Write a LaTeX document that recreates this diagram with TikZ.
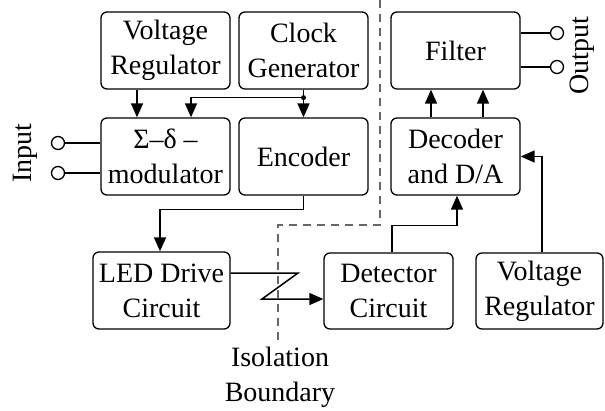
\documentclass[tikz,border=0pt]{standalone}
\usepackage{fontspec}
\setmainfont{Liberation Serif}
\usetikzlibrary{arrows.meta,calc}
\begin{document}
\begin{tikzpicture}[x=1pt,y=-1pt,
  blk/.style={draw,line width=1.3pt,rounded corners=6pt,align=center,inner sep=0pt,
    minimum width=129pt,minimum height=77pt,font=\fontsize{28}{35}\selectfont},
  lbl/.style={align=center,inner sep=0pt,font=\fontsize{28}{35}\selectfont},
  conn/.style={line width=1.5pt},
  arr/.style={conn,-{Triangle[length=14pt,width=12pt]}},
  term/.style={draw,line width=1.3pt,circle,minimum size=13pt,inner sep=0pt,fill=white},
  bnd/.style={dashed,dash pattern=on 8pt off 6pt,line width=1.2pt,gray!80!black}]
\useasboundingbox (0,0) rectangle (605,410);
% boxes
\node[blk] (VR1) at (165.5,50.5) {Voltage\\Regulator};
\node[blk] (CG) at (303.5,50.5) {Clock\\Generator};
\node[blk] (MOD) at (165.5,156.5) {Σ–δ –\\modulator};
\node[blk] (ENC) at (303.5,156.5) {Encoder};
\node[blk] (FIL) at (455.5,50.5) {Filter};
\node[blk] (DEC) at (455.5,156.5) {Decoder\\and D/A};
\node[blk,minimum width=137pt] (LED) at (161.5,290.5) {LED Drive\\Circuit};
\node[blk,minimum height=76pt] (DET) at (388.5,291) {Detector\\Circuit};
\node[blk,minimum width=127pt,minimum height=76pt] (VR2) at (539.5,291) {Voltage\\Regulator};
% terminals
\node[term] (i1) at (58,143) {};
\node[term] (i2) at (58,173) {};
\node[term] (o1) at (557,33) {};
\node[term] (o2) at (557,67) {};
\draw[conn] (i1) -- (i1 -| MOD.west);
\draw[conn] (i2) -- (i2 -| MOD.west);
\draw[conn] (o1 -| FIL.east) -- (o1);
\draw[conn] (o2 -| FIL.east) -- (o2);
\node[lbl,rotate=90] (inl) at (25,153) {Input};
\node[lbl,rotate=90] (outl) at (582,56) {Output};
% boundary
\coordinate (b1) at (380,0);
\coordinate (b2) at (380,225);
\coordinate (b3) at (278,225);
\coordinate (b4) at (278,342);
\draw[bnd] (b1) -- (b2) -- (b3) -- (b4);
\node[lbl] (iso) at (280,377) {Isolation\\Boundary};
% connectors
\draw[arr] ($(VR1.south)+(-28.5,0)$) -- ($(MOD.north)+(-28.5,0)$);
\draw[arr] (CG.south) -- (ENC.north);
\coordinate (j) at ($(CG.south)+(0,8)$);
\fill (j) circle (2.5pt);
\draw[arr] (j) -| ($(MOD.north)+(25.5,0)$);
\draw[arr] (ENC.south) -- ++(0,14) -| ($(LED.north)+(-1.5,0)$);
\coordinate (z1) at (298,273);
\coordinate (z2) at (262,299);
\draw[arr] ($(LED.east)+(0,-17.5)$) -- (z1) -- (z2) -- ($(DET.west)+(0,8)$);
\draw[arr] ($(DET.north)+(3.5,0)$) -- ($(DET.north)+(3.5,-27)$) -| ($(DEC.south)+(1.5,0)$);
\draw[arr] ($(VR2.north)+(2.5,0)$) |- (DEC.east);
\draw[arr] ($(DEC.north)+(-24.5,0)$) -- ($(FIL.south)+(-24.5,0)$);
\draw[arr] ($(DEC.north)+(27.5,0)$) -- ($(FIL.south)+(27.5,0)$);
\end{tikzpicture}
\end{document}
